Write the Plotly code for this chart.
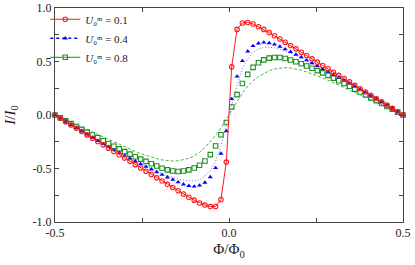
import plotly.graph_objects as go

# flux grid (Phi/Phi0), 66 points from -0.5 to 0.5
phi = [-0.5, -0.4846, -0.4692, -0.4538, -0.4385, -0.4231, -0.4077, -0.3923, -0.3769, -0.3615,
       -0.3462, -0.3308, -0.3154, -0.3, -0.2846, -0.2692, -0.2538, -0.2385, -0.2231, -0.2077,
       -0.1923, -0.1769, -0.1615, -0.1462, -0.1308, -0.1154, -0.1, -0.0846, -0.0692, -0.0538,
       -0.0385, -0.0231, -0.0077,
       0.0077, 0.0231, 0.0385, 0.0538, 0.0692, 0.0846, 0.1, 0.1154, 0.1308, 0.1462,
       0.1615, 0.1769, 0.1923, 0.2077, 0.2231, 0.2385, 0.2538, 0.2692, 0.2846, 0.3,
       0.3154, 0.3308, 0.3462, 0.3615, 0.3769, 0.3923, 0.4077, 0.4231, 0.4385, 0.4538,
       0.4692, 0.4846, 0.5]

# U0^m = 0.1 (red circles, solid line)
i_red = [0.0, -0.031, -0.062, -0.093, -0.124, -0.155, -0.186, -0.217, -0.248, -0.279,
         -0.310, -0.341, -0.372, -0.402, -0.433, -0.464, -0.495, -0.526, -0.556, -0.587,
         -0.617, -0.648, -0.678, -0.708, -0.738, -0.768, -0.796, -0.822, -0.842, -0.856,
         -0.855, -0.79, -0.44,
         0.45, 0.80, 0.86, 0.865, 0.85, 0.825, 0.80, 0.77, 0.74, 0.71,
         0.68, 0.65, 0.618, 0.587, 0.556, 0.525, 0.494, 0.463, 0.432, 0.40,
         0.37, 0.34, 0.31, 0.277, 0.246, 0.215, 0.185, 0.154, 0.123, 0.092,
         0.062, 0.031, 0.0]

# U0^m = 0.4 (blue triangles)
i_blue = [0.0, -0.031, -0.061, -0.092, -0.122, -0.152, -0.182, -0.212, -0.241, -0.27,
          -0.298, -0.326, -0.353, -0.38, -0.406, -0.432, -0.458, -0.483, -0.508, -0.533,
          -0.558, -0.582, -0.605, -0.628, -0.648, -0.662, -0.668, -0.658, -0.632, -0.58,
          -0.495, -0.36, -0.15,
          0.15, 0.36, 0.505, 0.595, 0.645, 0.67, 0.678, 0.672, 0.66, 0.64,
          0.615, 0.59, 0.565, 0.54, 0.512, 0.485, 0.458, 0.431, 0.405, 0.378,
          0.351, 0.324, 0.297, 0.27, 0.241, 0.212, 0.182, 0.152, 0.122, 0.092,
          0.061, 0.031, 0.0]

# U0^m = 0.4 dotted curve
i_blue_line = [0.0, -0.031, -0.061, -0.092, -0.122, -0.152, -0.182, -0.212, -0.241, -0.27,
               -0.298, -0.326, -0.353, -0.38, -0.406, -0.432, -0.457, -0.481, -0.505, -0.527,
               -0.548, -0.567, -0.584, -0.598, -0.61, -0.617, -0.617, -0.604, -0.572, -0.518,
               -0.43, -0.29, -0.1,
               0.1, 0.28, 0.43, 0.528, 0.585, 0.618, 0.632, 0.635, 0.628, 0.615,
               0.598, 0.578, 0.557, 0.533, 0.507, 0.481, 0.456, 0.43, 0.405, 0.378,
               0.351, 0.324, 0.297, 0.27, 0.241, 0.212, 0.182, 0.152, 0.122, 0.092,
               0.061, 0.031, 0.0]

# U0^m = 0.8 (green squares)
i_green = [0.0, -0.027, -0.054, -0.081, -0.107, -0.134, -0.16, -0.187, -0.213, -0.24,
           -0.266, -0.292, -0.317, -0.342, -0.366, -0.39, -0.412, -0.433, -0.455, -0.477,
           -0.497, -0.513, -0.524, -0.528, -0.524, -0.513, -0.495, -0.47, -0.43, -0.37,
           -0.29, -0.185, -0.07,
           0.075, 0.19, 0.295, 0.38, 0.445, 0.488, 0.515, 0.532, 0.538, 0.537,
           0.528, 0.514, 0.498, 0.479, 0.458, 0.437, 0.415, 0.394, 0.37, 0.345,
           0.32, 0.295, 0.268, 0.242, 0.215, 0.188, 0.16, 0.134, 0.107, 0.08,
           0.054, 0.027, 0.0]

# U0^m = 0.8 dashed curve
i_green_line = [0.0, -0.023, -0.046, -0.069, -0.092, -0.115, -0.138, -0.162, -0.186, -0.21,
                -0.233, -0.256, -0.278, -0.3, -0.321, -0.341, -0.36, -0.378, -0.394, -0.408,
                -0.42, -0.427, -0.43, -0.428, -0.42, -0.405, -0.383, -0.35, -0.305, -0.25,
                -0.19, -0.12, -0.04,
                0.05, 0.13, 0.205, 0.27, 0.32, 0.36, 0.39, 0.413, 0.43, 0.44,
                0.443, 0.44, 0.43, 0.418, 0.402, 0.385, 0.366, 0.346, 0.325, 0.303,
                0.281, 0.258, 0.235, 0.211, 0.187, 0.163, 0.139, 0.115, 0.092, 0.069,
                0.046, 0.023, 0.0]

labels = ["<i>U</i>₀ᵐ = 0.1",
          "<i>U</i>₀ᵐ = 0.4",
          "<i>U</i>₀ᵐ = 0.8"]

x_ticks = [-0.5, 0.0, 0.5]
x_ticktext = ["-0.5", "0.0", "0.5"]
y_ticks = [-1.0, -0.5, 0.0, 0.5, 1.0]
y_ticktext = ["-1.0", "-0.5", "0.0", "0.5", "1.0"]

RED = "#ff1a1a"
BLUE = "#0000ff"
GREEN = "#1f8f1f"
GREEN_L = "#4caf4c"
SERIF = "Liberation Serif, Times New Roman, serif"

fig = go.Figure()

# curves
fig.add_trace(go.Scatter(x=phi, y=i_green_line, mode="lines", showlegend=False,
                         line=dict(color=GREEN_L, width=1, dash="3px,2px"), cliponaxis=False))
fig.add_trace(go.Scatter(x=phi, y=i_blue_line, mode="lines", showlegend=False,
                         line=dict(color="#6a6aff", width=1, dash="1px,2px"), cliponaxis=False))
# markers
fig.add_trace(go.Scatter(x=phi, y=i_green, mode="markers", showlegend=False,
                         marker=dict(symbol="square-open", size=4.5, color=GREEN,
                                     line=dict(width=1.1, color=GREEN)), cliponaxis=False))
fig.add_trace(go.Scatter(x=phi, y=i_blue, mode="markers", showlegend=False,
                         marker=dict(symbol="triangle-up", size=4.5, color=BLUE), cliponaxis=False))
fig.add_trace(go.Scatter(x=phi, y=i_red, mode="lines+markers", showlegend=False,
                         line=dict(color=RED, width=1),
                         marker=dict(symbol="circle-open", size=4.5, color=RED,
                                     line=dict(width=1.1, color=RED)), cliponaxis=False))

# legend entries
fig.add_trace(go.Scatter(x=[None], y=[None], mode="lines+markers", name=labels[0],
                         line=dict(color=RED, width=1),
                         marker=dict(symbol="circle-open", size=4.5, color=RED, line=dict(width=1.1, color=RED))))
fig.add_trace(go.Scatter(x=[None], y=[None], mode="lines+markers", name=labels[1],
                         line=dict(color=BLUE, width=1.5, dash="dot"),
                         marker=dict(symbol="triangle-up", size=4.5, color=BLUE)))
fig.add_trace(go.Scatter(x=[None], y=[None], mode="lines+markers", name=labels[2],
                         line=dict(color=GREEN, width=1),
                         marker=dict(symbol="square-open", size=4.5, color=GREEN, line=dict(width=1.1, color=GREEN))))

axis_common = dict(showline=True, linecolor="#444444", linewidth=1, mirror="ticks",
                   ticks="inside", ticklen=4, tickcolor="#444444", showgrid=False, zeroline=False,
                   tickfont=dict(family=SERIF, size=12, color="#222222"))

fig.update_layout(
    width=415, height=265,
    margin=dict(l=55, r=12, t=8, b=43, autoexpand=False),
    plot_bgcolor="white", paper_bgcolor="white",
    font=dict(family=SERIF, color="#222222"),
    xaxis=dict(range=[-0.5, 0.5], tickmode="array", tickvals=x_ticks, ticktext=x_ticktext,
               minor=dict(tickmode="array", tickvals=[-0.25, 0.25], ticks="inside", ticklen=4,
                          tickcolor="#444444"),
               title=dict(text="Φ/Φ<sub>0</sub>", font=dict(family=SERIF, size=15), standoff=4),
               **axis_common),
    yaxis=dict(range=[-1.0, 1.0], tickmode="array", tickvals=y_ticks, ticktext=y_ticktext,
               minor=dict(tickmode="array", tickvals=[-0.75, -0.25, 0.25, 0.75], ticks="inside",
                          ticklen=4, tickcolor="#444444"),
               title=dict(text="<i>I</i>/<i>I</i><sub>0</sub>", font=dict(family=SERIF, size=15), standoff=13),
               **axis_common),
    legend=dict(x=-0.028, y=1.015, xanchor="left", yanchor="top", bgcolor="rgba(0,0,0,0)",
                font=dict(family=SERIF, size=11), itemwidth=30,
                tracegroupgap=0),
)

fig.write_html("out.html", config={"displayModeBar": False},
               post_script="document.body.style.margin='0';document.body.style.padding='0';")
